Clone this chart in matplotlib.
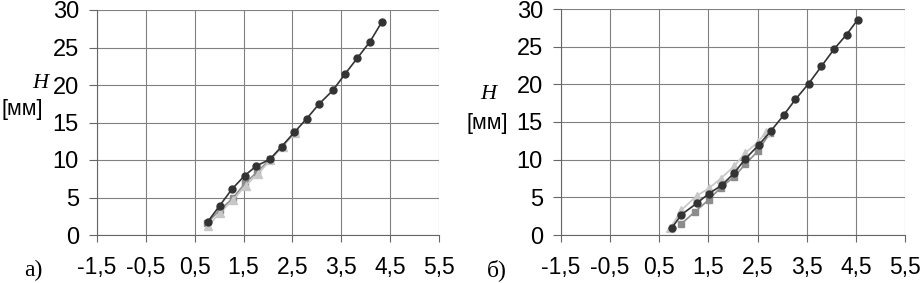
import matplotlib
matplotlib.use('Agg')
import matplotlib.pyplot as plt
import numpy as np

plt.rcParams['font.family'] = ['Liberation Sans', 'DejaVu Sans']

# ## Data
x_ticks = [-1.5, -0.5, 0.5, 1.5, 2.5, 3.5, 4.5, 5.5]
x_labels = ['-1,5', '-0,5', '0,5', '1,5', '2,5', '3,5', '4,5', '5,5']
y_ticks = [0, 5, 10, 15, 20, 25, 30]

# panel a)
a_circ_x = [0.77, 1.01, 1.26, 1.52, 1.76, 2.04, 2.28, 2.54, 2.79, 3.05, 3.33, 3.58, 3.83, 4.09, 4.33]
a_circ_y = [1.8, 3.9, 6.1, 7.9, 9.2, 10.1, 11.8, 13.7, 15.5, 17.5, 19.3, 21.5, 23.6, 25.8, 28.4]
a_sq_x = [0.75, 1.01, 1.28, 1.53, 1.78, 2.04, 2.29, 2.55]
a_sq_y = [1.6, 3.3, 4.9, 6.9, 8.4, 10.1, 11.8, 13.7]
a_tri_x = [0.77, 1.02, 1.29, 1.54, 1.79, 2.05, 2.30, 2.55]
a_tri_y = [1.2, 3.0, 4.7, 6.6, 8.1, 10.0, 11.8, 13.6]

# panel b)
b_circ_x = [0.75, 0.95, 1.26, 1.51, 1.77, 2.02, 2.25, 2.53, 2.77, 3.03, 3.27, 3.54, 3.80, 4.06, 4.31, 4.54]
b_circ_y = [0.9, 2.7, 4.2, 5.5, 6.6, 8.2, 10.1, 12.0, 13.8, 15.9, 18.0, 20.1, 22.4, 24.7, 26.6, 28.6]
b_sq_x = [0.95, 1.23, 1.51, 1.75, 2.02, 2.25, 2.50, 2.76]
b_sq_y = [1.5, 3.1, 4.7, 6.3, 7.7, 9.4, 11.1, 13.6]
b_tri_x = [0.72, 0.95, 1.26, 1.51, 1.75, 2.02, 2.25, 2.50, 2.68]
b_tri_y = [0.9, 3.3, 5.2, 6.2, 7.5, 9.1, 10.9, 12.3, 13.7]

panels = [
	dict(rect=[97/921, 48/283, 342/921, 225/283], circ=(a_circ_x, a_circ_y), sq=(a_sq_x, a_sq_y),
	     tri=(a_tri_x, a_tri_y), tag='а)', tagx=33/921, hx=40/921, hy=1-83/283, mmx=22/921, mmy=1-110/283),
	dict(rect=[561/921, 48/283, 344/921, 226/283], circ=(b_circ_x, b_circ_y), sq=(b_sq_x, b_sq_y),
	     tri=(b_tri_x, b_tri_y), tag='б)', tagx=497/921, hx=488/921, hy=1-95/283, mmx=487/921, mmy=1-123/283),
]

fig = plt.figure(figsize=(9.21, 2.83), dpi=100)

for p in panels:
	ax = fig.add_axes(p['rect'])
	ax.set_xlim(-1.5, 5.5)
	ax.set_ylim(0, 30)
	ax.set_xticks(x_ticks)
	ax.set_xticklabels(x_labels)
	ax.set_yticks(y_ticks)
	ax.grid(True, color='0.5', linewidth=0.8)
	ax.set_axisbelow(True)
	for s in ['top', 'right']:
		ax.spines[s].set_visible(False)
	for s in ['left', 'bottom']:
		ax.spines[s].set_color('0.4')
		ax.spines[s].set_linewidth(0.8)
	ax.tick_params(axis='x', length=5, color='0.4', pad=10, labelsize=16.5)
	ax.tick_params(axis='y', length=6, color='0.4', pad=7, labelsize=17)

	# squares (mid grey), triangles (light grey), circles (dark)
	ax.plot(*p['sq'], color='0.55', marker='s', markersize=5, linewidth=1.2, clip_on=False)
	ax.plot(*p['tri'], color='0.78', marker='^', markersize=6, linewidth=1.2, clip_on=False)
	ax.plot(*p['circ'], color='0.2', marker='o', markersize=5, linewidth=1.2, clip_on=False)

	fig.text(p['hx'], p['hy'], 'H', family='Liberation Serif', style='italic', fontsize=16,
	         ha='center', va='center')
	fig.text(p['mmx'], p['mmy'], '[мм]', fontsize=15.5, ha='center', va='center')
	fig.text(p['tagx'], 1-270/283, p['tag'], family='Liberation Serif', fontsize=17,
	         ha='center', va='center')

plt.savefig('out.png', dpi=100)
